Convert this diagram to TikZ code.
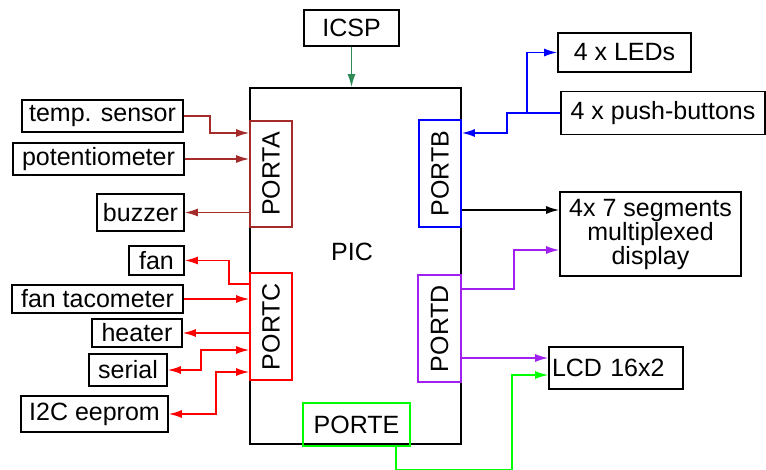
\documentclass[tikz,border=0pt]{standalone}
\usepackage{fontspec}
\setmainfont{Liberation Sans}
\usepackage{graphicx}
\usetikzlibrary{positioning}
\usetikzlibrary{arrows.meta}
\definecolor{portA}{HTML}{A52A2A}
\definecolor{portC}{HTML}{FF0000}
\definecolor{portB}{HTML}{0000FF}
\definecolor{portD}{HTML}{A020F0}
\definecolor{portE}{HTML}{00FF00}
\definecolor{icsp}{HTML}{2E8B57}

\begin{document}
\begin{tikzpicture}[x=1pt, y=-1pt, line width=1.6pt,
  >={Latex[length=13pt,width=8pt]},
  every node/.style = {rectangle, draw=black, inner sep=0pt, align=center,
    font=\fontsize{25}{24}\selectfont}]
  \useasboundingbox (0,0) rectangle (766,470);

  % the PIC and its ports
  \node (PIC) [minimum width=211pt, minimum height=356pt] at (355.5,266) {};
  \node (PICLabel) [draw=none] at (352,252) {PIC};
  \node (PA) [draw=portA, minimum width=42pt, minimum height=106pt] at (271,174) {\rotatebox{90}{PORTA}};
  \node (PC) [draw=portC, minimum width=42pt, minimum height=107pt] at (271,326.5) {\rotatebox{90}{PORTC}};
  \node (PB) [draw=portB, minimum width=42pt, minimum height=107pt] at (440,173.5) {\rotatebox{90}{PORTB}};
  \node (PD) [draw=portD, minimum width=43pt, minimum height=107pt] at (439.5,328.5) {\rotatebox{90}{PORTD}};
  \node (PE) [draw=portE, minimum width=107pt, minimum height=43pt] at (356.5,424.5) {PORTE};
  \node (ICSP) [minimum width=95pt, minimum height=36pt] at (351.5,28) {ICSP};

  % left side
  \node (TempS)  [minimum width=161pt, minimum height=32pt] at (102.5,116) {temp. sensor};
  \node (Poti)   [minimum width=171pt, minimum height=32pt] at (98.5,159) {potentiometer};
  \node (Buzz)   [minimum width=87pt, minimum height=37pt] at (140.5,212.5) {buzzer};
  \node (Fan)    [minimum width=55pt, minimum height=29pt] at (156.5,260.5) {fan};
  \node (FanTac) [minimum width=171pt, minimum height=28pt] at (97.5,299) {fan tacometer};
  \node (Heat)   [minimum width=90pt, minimum height=28pt] at (137,333) {heater};
  \node (Ser)    [minimum width=78pt, minimum height=32pt] at (128,370) {serial};
  \node (EEP)    [minimum width=147pt, minimum height=36pt] at (94.5,414) {I2C eeprom};

  % right side
  \node (LEDs) [minimum width=133pt, minimum height=39pt] at (624.5,52.5) {4 x LEDs};
  \node (Btns) [minimum width=204pt, minimum height=43pt] at (663,113) {4 x push-buttons};
  \node (Seg)  [minimum width=181pt, minimum height=84pt] at (650.5,234) {4x 7 segments\\multiplexed\\display};
  \node (LCD)  [minimum height=42pt, text width=128pt, inner xsep=3pt, align=left] at (616,368) {LCD 16x2};
  \coordinate (BtnsFork) at (527,113);

  % connections
  \draw [icsp, ->] (ICSP.south) -- (ICSP.south |- PIC.north);

  \draw [portA, ->] (TempS.east) -- (210,116) |- (PA.west |- 0,133);
  \draw [portA, ->] (Poti.east) -- (Poti.east -| PA.west);
  \draw [portA, ->] (PA.west |- Buzz) -- (Buzz.east);

  \draw [portC, ->] (PC.west |- 0,284) -- (229,284) |- (Fan.east);
  \draw [portC, ->] (FanTac.east) -- (FanTac.east -| PC.west);
  \draw [portC, ->] (PC.west |- Heat) -- (Heat.east);
  \draw [portC, <->] (Ser.east) -- (201,370) |- (PC.west |- 0,350);
  \draw [portC, <->] (EEP.east) -- (216,414) |- (PC.west |- 0,372);

  \draw [portB, ->] (Btns.west) -- (507,113) |- (PB.east |- 0,133);
  \draw [portB, ->] (BtnsFork) |- (LEDs.west);
  \draw [->] (PB.east |- 0,210) -- (Seg.west |- 0,210);

  \draw [portD, ->] (PD.east |- 0,289) -- (514,289) |- (Seg.west |- 0,250);
  \draw [portD, ->] (PD.east |- 0,358) -- (LCD.west |- 0,358);

  \draw [portE, ->] (PE.south -| 396,0) |- (512,470) |- (LCD.west |- 0,375);
\end{tikzpicture}
\end{document}
